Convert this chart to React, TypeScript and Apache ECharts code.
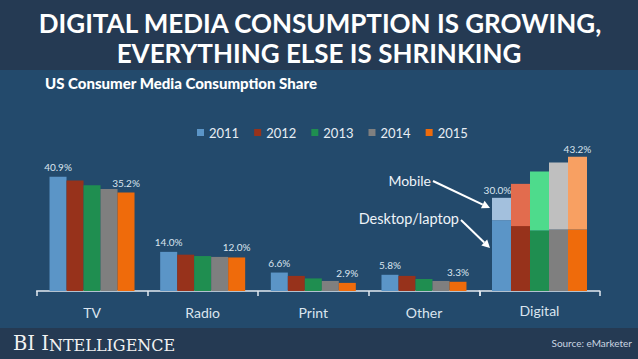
import React, { useEffect, useRef } from "react";
import * as echarts from "echarts";

const categories = ["TV", "Radio", "Print", "Other"];
const digitalCategory = ["Digital"];
const years = ["2011", "2012", "2013", "2014", "2015"];
const tvValues = [40.9, 39.5, 37.8, 36.5, 35.2];
const radioValues = [14.0, 13.0, 12.5, 12.2, 12.0];
const printValues = [6.6, 5.4, 4.5, 3.6, 2.9];
const otherValues = [5.8, 5.4, 4.3, 3.6, 3.3];
const digitalDesktop = [22.8, 20.9, 19.5, 19.8, 19.8];
const digitalMobile = [7.2, 13.6, 19.0, 21.6, 23.4];
const digitalTotal = [30.0, 34.5, 38.5, 41.4, 43.2];
const yearColors = ["#5b95c7", "#97321b", "#1f8e50", "#7f7f7f", "#ef6b0b"];
const mobileColors = ["#a3c0dd", "#e26c4e", "#4edb8c", "#bfbfbf", "#f8a062"];

const FONT = "Lato, 'Open Sans', sans-serif";
const LABEL_COLOR = "#dbe5ef";
const SERIF = "'DejaVu Serif', 'Liberation Serif', serif";

function arrow(x1: number, y1: number, x2: number, y2: number) {
  const dx = x2 - x1;
  const dy = y2 - y1;
  const len = Math.sqrt(dx * dx + dy * dy);
  const ux = dx / len;
  const uy = dy / len;
  const nx = -uy;
  const ny = ux;
  const hl = 8;
  const hw = 4.2;
  const bx = x2 - hl * ux;
  const by = y2 - hl * uy;
  return [
    {
      type: "line",
      shape: { x1, y1, x2: bx, y2: by },
      style: { stroke: "#ffffff", lineWidth: 2 },
      silent: true,
    },
    {
      type: "polygon",
      shape: {
        points: [
          [x2, y2],
          [bx + hw * nx, by + hw * ny],
          [bx - hw * nx, by - hw * ny],
        ],
      },
      style: { fill: "#ffffff" },
      silent: true,
    },
  ];
}

export default function App() {
  const ref = useRef<HTMLDivElement>(null);

  useEffect(() => {
    if (!ref.current) return;
    const chart = echarts.init(ref.current, undefined, { renderer: "svg" });

    const tradSeries = years.map((y, i) => ({
      name: y,
      type: "bar",
      xAxisIndex: 0,
      yAxisIndex: 0,
      barWidth: 17,
      barGap: "0%",
      data: [tvValues[i], radioValues[i], printValues[i], otherValues[i]],
      itemStyle: { color: yearColors[i] },
      label: {
        show: i === 0 || i === years.length - 1,
        position: "top",
        distance: 5,
        color: LABEL_COLOR,
        fontFamily: FONT,
        fontSize: 10,
        formatter: (p: any) => Number(p.value).toFixed(1) + "%",
      },
    }));

    const digitalSeries: any[] = [];
    years.forEach((y, i) => {
      digitalSeries.push({
        name: y,
        type: "bar",
        xAxisIndex: 1,
        yAxisIndex: 1,
        stack: "d" + y,
        barWidth: 19,
        barGap: "0%",
        data: [digitalDesktop[i]],
        itemStyle: { color: yearColors[i] },
      });
      digitalSeries.push({
        name: y,
        type: "bar",
        xAxisIndex: 1,
        yAxisIndex: 1,
        stack: "d" + y,
        barWidth: 19,
        barGap: "0%",
        data: [digitalMobile[i]],
        itemStyle: { color: mobileColors[i] },
        label: {
          show: i === 0 || i === years.length - 1,
          position: "top",
          distance: 3,
          offset: i === 0 ? [-4, 0] : [0, 0],
          color: LABEL_COLOR,
          fontFamily: FONT,
          fontSize: 10,
          formatter: () => digitalTotal[i].toFixed(1) + "%",
        },
      });
    });

    const axisCommon = {
      type: "category",
      axisLine: { show: true, lineStyle: { color: "#e3eaf1", width: 1.5 } },
      axisTick: { show: true, length: 5, lineStyle: { color: "#e3eaf1", width: 1.5 } },
      axisLabel: { color: LABEL_COLOR, fontFamily: FONT, fontSize: 14, margin: 14 },
      splitLine: { show: false },
    };

    const option: any = {
      animation: false,
      backgroundColor: "#234a6c",
      textStyle: { fontFamily: FONT },
      legend: {
        data: years,
        top: 121,
        left: 192,
        icon: "rect",
        itemWidth: 7,
        itemHeight: 7,
        itemGap: 15,
        textStyle: { color: "#e8eef4", fontSize: 13, fontFamily: FONT },
      },
      grid: [
        { left: 36.7, width: 442.6, top: 151.25, bottom: 68, containLabel: false },
        { left: 479.3, width: 120.4, top: 151.25, bottom: 68, containLabel: false },
      ],
      xAxis: [
        { ...axisCommon, gridIndex: 0, data: categories },
        { ...axisCommon, gridIndex: 1, data: digitalCategory, axisLabel: { ...axisCommon.axisLabel, margin: 12 } },
      ],
      yAxis: [
        { type: "value", gridIndex: 0, min: 0, max: 50, show: false, splitLine: { show: false } },
        { type: "value", gridIndex: 1, min: 0, max: 45, show: false, splitLine: { show: false } },
      ],
      series: [...tradSeries, ...digitalSeries],
      graphic: [
        { type: "rect", shape: { x: 0, y: 0, width: 638, height: 70 }, style: { fill: "#253a53" }, silent: true },
        { type: "rect", shape: { x: 0, y: 328, width: 638, height: 31 }, style: { fill: "#253a53" }, silent: true },
        {
          type: "text",
          x: 320,
          y: 23,
          style: {
            text: "DIGITAL MEDIA CONSUMPTION IS GROWING,",
            fill: "#ffffff",
            font: "bold 26px " + FONT,
            align: "center",
            verticalAlign: "middle",
          },
        },
        {
          type: "text",
          x: 319,
          y: 53,
          style: {
            text: "EVERYTHING ELSE IS SHRINKING",
            fill: "#ffffff",
            font: "bold 26px " + FONT,
            align: "center",
            verticalAlign: "middle",
          },
        },
        {
          type: "text",
          x: 45,
          y: 83,
          style: {
            text: "US Consumer Media Consumption Share",
            fill: "#ffffff",
            font: "900 15px " + FONT,
            align: "left",
            verticalAlign: "middle",
          },
        },
        {
          type: "text",
          x: 13,
          y: 343,
          style: {
            text: "{a|BI I}{b|NTELLIGENCE}",
            fill: "#f2f2f2",
            align: "left",
            verticalAlign: "middle",
            rich: {
              a: { fontFamily: SERIF, fontSize: 19.5, fill: "#f2f2f2", verticalAlign: "bottom" },
              b: { fontFamily: SERIF, fontSize: 16, fill: "#f2f2f2", verticalAlign: "bottom" },
            },
          },
        },
        {
          type: "text",
          x: 632,
          y: 343,
          style: {
            text: "Source: eMarketer",
            fill: "#c9d5e1",
            font: "10px " + FONT,
            align: "right",
            verticalAlign: "middle",
          },
        },
        {
          type: "text",
          x: 431,
          y: 180,
          style: {
            text: "Mobile",
            fill: "#eef3f8",
            font: "14px " + FONT,
            align: "right",
            verticalAlign: "middle",
          },
        },
        {
          type: "text",
          x: 459,
          y: 218,
          style: {
            text: "Desktop/laptop",
            fill: "#eef3f8",
            font: "14.5px " + FONT,
            align: "right",
            verticalAlign: "middle",
          },
        },
        ...arrow(433, 181, 490, 208),
        ...arrow(461, 220, 490, 248),
      ],
    };

    chart.setOption(option);
    return () => {
      chart.dispose();
    };
  }, []);

  return (
    <div
      ref={ref}
      style={{ position: "fixed", left: 0, top: 0, width: 638, height: 359 }}
    />
  );
}
